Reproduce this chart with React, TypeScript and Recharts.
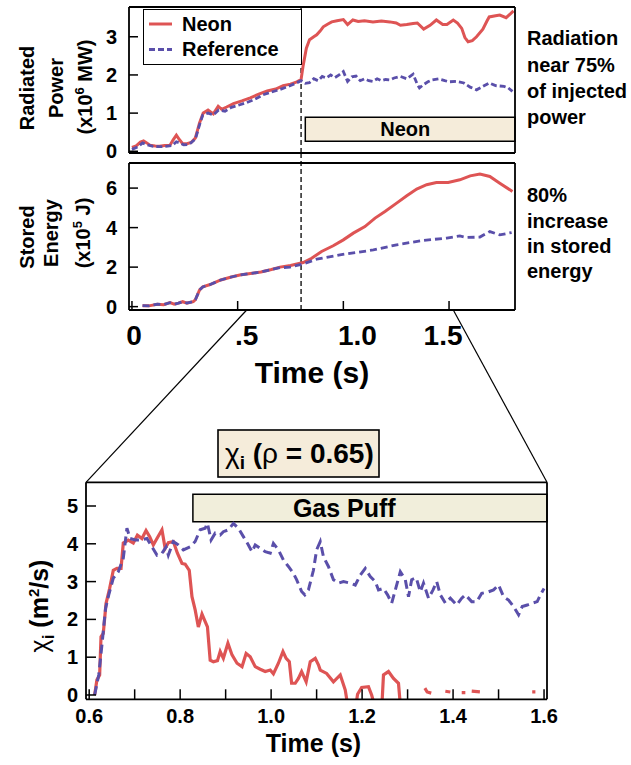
import React from 'react';
import { LineChart, Line, XAxis, YAxis, ReferenceArea, ReferenceLine, Legend } from 'recharts';

type Pt = [number, number | null];

// ---------- data ----------
const radiatedNeon: Pt[] = [
  [0.0, 0.1], [0.02, 0.14], [0.04, 0.24], [0.055, 0.27], [0.07, 0.22], [0.085, 0.16], [0.11, 0.14], [0.13, 0.13],
  [0.155, 0.15], [0.18, 0.16], [0.195, 0.3], [0.21, 0.42], [0.225, 0.3], [0.24, 0.2], [0.26, 0.2], [0.28, 0.23],
  [0.3, 0.35], [0.32, 0.75], [0.337, 1.0], [0.36, 1.08], [0.385, 0.98], [0.408, 1.18], [0.424, 1.1], [0.448, 1.16],
  [0.48, 1.25], [0.52, 1.32], [0.56, 1.4], [0.6, 1.5], [0.64, 1.58], [0.68, 1.63], [0.715, 1.72], [0.75, 1.76],
  [0.78, 1.82], [0.8, 1.88], [0.81, 2.25], [0.825, 2.7], [0.84, 2.92], [0.86, 3.0], [0.874, 3.05], [0.89, 3.15],
  [0.905, 3.26], [0.925, 3.33], [0.945, 3.39], [0.97, 3.42], [1.0, 3.45], [1.02, 3.32], [1.045, 3.44], [1.07, 3.4],
  [1.1, 3.42], [1.14, 3.39], [1.18, 3.41], [1.22, 3.39], [1.25, 3.36], [1.27, 3.3], [1.3, 3.32], [1.33, 3.35],
  [1.35, 3.36], [1.38, 3.2], [1.41, 3.3], [1.44, 3.44], [1.47, 3.32], [1.49, 3.32], [1.52, 3.44], [1.54, 3.36],
  [1.56, 3.22], [1.575, 2.98], [1.59, 2.87], [1.61, 2.9], [1.63, 3.0], [1.66, 3.2], [1.68, 3.42], [1.69, 3.52],
  [1.72, 3.55], [1.74, 3.57], [1.77, 3.5], [1.79, 3.6], [1.805, 3.68],
];
const radiatedReference: Pt[] = [
  [0.0, 0.05], [0.03, 0.12], [0.05, 0.22], [0.07, 0.17], [0.1, 0.13], [0.13, 0.12], [0.16, 0.13], [0.19, 0.15],
  [0.21, 0.25], [0.225, 0.22], [0.245, 0.17], [0.27, 0.18], [0.3, 0.32], [0.32, 0.7], [0.335, 0.95], [0.36, 1.0],
  [0.385, 0.95], [0.41, 1.08], [0.44, 1.05], [0.47, 1.15], [0.5, 1.2], [0.54, 1.27], [0.58, 1.36], [0.62, 1.48],
  [0.66, 1.55], [0.7, 1.62], [0.74, 1.7], [0.77, 1.77], [0.8, 1.85], [0.82, 1.78], [0.84, 1.8], [0.86, 1.9],
  [0.88, 1.85], [0.9, 1.96], [0.92, 1.92], [0.94, 2.0], [0.96, 1.93], [0.98, 2.0], [1.0, 2.09], [1.02, 1.83],
  [1.04, 1.95], [1.06, 1.97], [1.08, 1.85], [1.1, 1.9], [1.12, 1.85], [1.14, 1.83], [1.16, 1.9], [1.18, 1.85],
  [1.2, 1.88], [1.22, 1.87], [1.24, 1.92], [1.27, 1.96], [1.3, 1.9], [1.33, 2.02], [1.35, 1.75], [1.36, 1.66],
  [1.38, 1.75], [1.4, 1.82], [1.42, 1.87], [1.45, 1.9], [1.48, 1.85], [1.5, 1.82], [1.535, 1.83], [1.57, 1.79],
  [1.6, 1.68], [1.63, 1.61], [1.66, 1.7], [1.69, 1.79], [1.72, 1.72], [1.76, 1.7], [1.78, 1.66], [1.8, 1.57],
];
const storedNeon: Pt[] = [
  [0.05, 0.05], [0.08, 0.04], [0.12, 0.12], [0.15, 0.1], [0.18, 0.2], [0.2, 0.12], [0.22, 0.18], [0.24, 0.25],
  [0.26, 0.18], [0.29, 0.25], [0.3, 0.35], [0.32, 0.85], [0.335, 1.0], [0.37, 1.12], [0.42, 1.35], [0.47, 1.5],
  [0.51, 1.6], [0.56, 1.68], [0.61, 1.75], [0.66, 1.88], [0.7, 2.0], [0.75, 2.08], [0.81, 2.23], [0.85, 2.45],
  [0.897, 2.79], [0.952, 3.08], [1.0, 3.38], [1.047, 3.72], [1.102, 4.05], [1.15, 4.48], [1.197, 4.82], [1.252, 5.24],
  [1.3, 5.61], [1.347, 5.95], [1.394, 6.17], [1.44, 6.28], [1.496, 6.28], [1.551, 6.42], [1.6, 6.62], [1.646, 6.71],
  [1.693, 6.59], [1.74, 6.25], [1.8, 5.83],
];
const storedReference: Pt[] = [
  [0.05, 0.05], [0.08, 0.04], [0.12, 0.12], [0.15, 0.1], [0.18, 0.2], [0.2, 0.12], [0.22, 0.18], [0.24, 0.25],
  [0.26, 0.18], [0.29, 0.25], [0.3, 0.35], [0.32, 0.85], [0.335, 1.0], [0.37, 1.12], [0.42, 1.35], [0.47, 1.5],
  [0.51, 1.6], [0.56, 1.68], [0.61, 1.75], [0.66, 1.88], [0.7, 1.97], [0.747, 2.0], [0.81, 2.16], [0.874, 2.4],
  [0.984, 2.62], [1.142, 2.87], [1.252, 3.13], [1.378, 3.35], [1.489, 3.47], [1.551, 3.58], [1.583, 3.5],
  [1.646, 3.52], [1.693, 3.8], [1.74, 3.63], [1.796, 3.75],
];
const chiNeon: Pt[] = [
  [0.612, 0], [0.617, 0.4], [0.623, 0.53], [0.626, 1.54], [0.631, 1.63], [0.637, 2.42], [0.645, 2.82], [0.653, 3.3],
  [0.661, 3.35], [0.67, 3.35], [0.675, 4.02], [0.686, 4.1], [0.697, 4.02], [0.706, 4.23], [0.716, 4.14], [0.725, 4.35],
  [0.733, 4.19], [0.741, 3.97], [0.749, 4.14], [0.76, 4.37], [0.767, 3.88], [0.774, 4.03], [0.785, 4.06], [0.794, 3.75],
  [0.804, 3.48], [0.811, 3.46], [0.82, 3.3], [0.826, 2.6], [0.833, 2.25], [0.84, 1.8], [0.848, 2.14], [0.855, 1.94],
  [0.86, 1.8], [0.866, 0.92], [0.873, 0.88], [0.882, 0.91], [0.888, 1.15], [0.895, 0.97], [0.905, 1.37], [0.914, 1.06],
  [0.925, 0.84], [0.936, 0.75], [0.945, 1.1], [0.954, 1.01], [0.965, 0.75], [0.976, 0.68], [0.987, 0.62], [0.998, 0.66],
  [1.005, 0.56], [1.016, 0.84], [1.026, 1.15], [1.033, 0.97], [1.04, 0.88], [1.045, 0.31], [1.053, 0.31], [1.06, 0.44],
  [1.067, 0.62], [1.077, 0.35], [1.086, 0.88], [1.097, 0.97], [1.104, 0.8], [1.108, 0.66], [1.122, 0.57], [1.137, 0.35],
  [1.152, 0.53], [1.163, 0.13], [1.17, -0.4], [1.185, -0.4], [1.19, 0.02], [1.199, 0.2], [1.214, 0.22], [1.221, 0.0],
  [1.23, -0.4], [1.243, -0.4], [1.247, 0.53], [1.258, 0.62], [1.269, 0.44], [1.28, 0.31], [1.285, -0.4], [1.3, null],
  [1.338, 0.18], [1.343, 0.08], [1.352, 0.05], [1.36, null], [1.383, 0.1], [1.394, 0.08], [1.4, null],
  [1.419, 0.06], [1.427, 0.06], [1.432, null], [1.441, 0.1], [1.459, 0.08], [1.465, null],
  [1.574, 0.08], [1.581, 0.08],
];
const chiReference: Pt[] = [
  [0.612, 0], [0.621, 0.53], [0.628, 1.32], [0.636, 2.29], [0.643, 2.65], [0.653, 3.09], [0.664, 3.26], [0.675, 3.62],
  [0.683, 4.41], [0.69, 4.14], [0.701, 4.1], [0.712, 4.1], [0.727, 4.14], [0.738, 3.92], [0.749, 3.7], [0.76, 3.75],
  [0.769, 3.92], [0.774, 3.7], [0.785, 4.06], [0.796, 3.97], [0.807, 3.84], [0.822, 3.92], [0.833, 4.06], [0.844, 4.37],
  [0.855, 4.41], [0.86, 4.54], [0.868, 4.1], [0.877, 4.28], [0.888, 4.23], [0.895, 4.32], [0.906, 4.37], [0.917, 4.54],
  [0.928, 4.41], [0.939, 4.19], [0.95, 3.97], [0.958, 3.79], [0.965, 3.97], [0.976, 3.88], [0.987, 3.79], [0.998, 3.75],
  [1.005, 4.01], [1.016, 3.84], [1.027, 3.57], [1.038, 3.4], [1.049, 3.22], [1.056, 3.05], [1.067, 2.74], [1.074, 2.65],
  [1.082, 2.78], [1.093, 3.3], [1.1, 3.84], [1.108, 4.06], [1.115, 3.66], [1.126, 3.4], [1.137, 3.05], [1.148, 2.96],
  [1.159, 3.0], [1.174, 2.96], [1.185, 2.91], [1.196, 3.17], [1.207, 3.35], [1.218, 3.13], [1.229, 3.0], [1.236, 2.78],
  [1.247, 2.82], [1.256, 2.65], [1.265, 2.43], [1.273, 2.78], [1.284, 3.26], [1.295, 3.05], [1.302, 2.6], [1.309, 3.05],
  [1.319, 3.1], [1.328, 2.73], [1.335, 2.96], [1.346, 2.56], [1.356, 2.78], [1.364, 3.0], [1.372, 2.65], [1.383, 2.43],
  [1.394, 2.56], [1.408, 2.38], [1.419, 2.56], [1.427, 2.65], [1.441, 2.47], [1.452, 2.47], [1.463, 2.69], [1.478, 2.73],
  [1.489, 2.78], [1.5, 2.91], [1.511, 2.6], [1.522, 2.51], [1.533, 2.34], [1.544, 2.12], [1.552, 2.34], [1.563, 2.38],
  [1.574, 2.43], [1.585, 2.47], [1.592, 2.65], [1.6, 2.82],
];

const upperTimeTicks = [0, 0.5, 1, 1.5];
const upperTimeLabels = ['0', '.5', '1.0', '1.5'];
const radiatedTicks = [0, 1, 2, 3];
const storedTicks = [0, 2, 4, 6];
const chiTimeTicks = [0.6, 0.7, 0.8, 0.9, 1.0, 1.1, 1.2, 1.3, 1.4, 1.5, 1.6];
const chiTimeLabels = ['0.6', '', '0.8', '', '1.0', '', '1.2', '', '1.4', '', '1.6'];
const chiTicks = [0, 1, 2, 3, 4, 5];
const neonOnset = 0.8;

// ---------- style ----------
const FONT = '"Liberation Sans", Arial, Helvetica, sans-serif';
const RED = '#de5454';
const BLUE = '#5a4faa';
const BOX_FILL = '#f5ecda';
const PUFF_FILL = '#f1eedb';
const upperX = [-0.014, 1.812];
const chiX = [0.593, 1.6065];

const rows = (pts: Pt[]) => pts.map(([t, v]) => ({ t, v }));
const axisLine = { stroke: '#000', strokeWidth: 1.8 };
const tickLine = { stroke: '#000', strokeWidth: 1.5 };
const yTickFont = { fontSize: 20, fontWeight: 700, fill: '#000', fontFamily: FONT };

const labelShift: Record<string, number> = { '0': 2, '.5': 9, '1.0': 14, '1.5': -6 };
const UpperTimeTick = (p: any) => {
  const idx = upperTimeTicks.indexOf(p.payload.value);
  const lab = upperTimeLabels[idx] ?? '';
  return (
    <text x={p.x + (labelShift[lab] || 0)} y={p.y} dy="0.71em" textAnchor="middle" fontSize={28} fontWeight={700} fill="#000" fontFamily={FONT}>
      {lab}
    </text>
  );
};

const LegendBox = (props: any) => {
  const items = props.payload || [];
  return (
    <div style={{ position: 'relative', width: 159, height: 56, border: '1.6px solid #000', boxSizing: 'border-box', background: '#fff' }}>
      <svg width={159} height={56} style={{ position: 'absolute', left: -1.6, top: -1.6, overflow: 'visible' }}>
        {items.map((it: any, i: number) => (
          <g key={i}>
            <line x1={7} x2={30} y1={16 + i * 25.5} y2={16 + i * 25.5} stroke={it.color} strokeWidth={3}
              strokeDasharray={it.payload && it.payload.strokeDasharray ? it.payload.strokeDasharray : undefined} />
            <text x={40} y={23 + i * 24.5} fontSize={20} fontWeight={700} fill="#000" fontFamily={FONT}>{it.value}</text>
          </g>
        ))}
      </svg>
    </div>
  );
};

export default function App() {
  return (
    <div style={{ position: 'absolute', left: 0, top: 0, width: 631, height: 765, background: '#fff', fontFamily: FONT }}>
      {/* Radiated power */}
      <div style={{ position: 'absolute', left: 0, top: 0 }}>
        <LineChart width={631} height={165} margin={{ top: 6, right: 115, bottom: 11, left: 128 }} style={{ fontFamily: FONT }}>
          <XAxis xAxisId="b" type="number" dataKey="t" domain={upperX} allowDataOverflow ticks={upperTimeTicks} interval={0}
            height={1} tick={false} tickSize={-9} axisLine={axisLine} tickLine={tickLine} />
          <XAxis xAxisId="t" orientation="top" type="number" dataKey="t" domain={upperX} allowDataOverflow ticks={upperTimeTicks}
            interval={0} height={1} tick={false} tickSize={-9} axisLine={axisLine} tickLine={tickLine} />
          <YAxis yAxisId="l" type="number" domain={[-0.045, 3.78]} allowDataOverflow ticks={radiatedTicks} interval={0}
            width={1} tickSize={-9} tickMargin={21} tick={yTickFont} axisLine={axisLine} tickLine={tickLine} />
          <YAxis yAxisId="r" orientation="right" type="number" domain={[-0.045, 3.78]} allowDataOverflow ticks={radiatedTicks}
            interval={0} width={1} tickSize={-9} tick={false} axisLine={axisLine} tickLine={tickLine} />
          <ReferenceArea xAxisId="b" yAxisId="l" x1={0.82} x2={1.812} y1={0.26} y2={0.89} fill={BOX_FILL} fillOpacity={1}
            stroke="#000" strokeWidth={1.5}
            label={{ value: 'Neon', position: 'insideLeft', offset: 75, fill: '#000', fontSize: 20, fontWeight: 700, fontFamily: FONT }} />
          <ReferenceLine xAxisId="b" yAxisId="l" x={neonOnset} stroke="#000" strokeWidth={1.3} strokeDasharray="5 3" />
          <Line xAxisId="b" yAxisId="l" data={rows(radiatedNeon)} dataKey="v" name="Neon" stroke={RED} strokeWidth={3}
            dot={false} isAnimationActive={false} />
          <Line xAxisId="b" yAxisId="l" data={rows(radiatedReference)} dataKey="v" name="Reference" stroke={BLUE} strokeWidth={2.8}
            strokeDasharray="6 3" dot={false} isAnimationActive={false} />
          <Legend layout="horizontal" verticalAlign="middle" align="center" content={LegendBox}
            wrapperStyle={{ left: 143, top: 9, width: 159, height: 56 }} />
        </LineChart>
      </div>

      {/* Stored energy */}
      <div style={{ position: 'absolute', left: 0, top: 153 }}>
        <LineChart width={631} height={200} margin={{ top: 9, right: 115, bottom: 42, left: 128 }} style={{ fontFamily: FONT }}>
          <XAxis xAxisId="b" type="number" dataKey="t" domain={upperX} allowDataOverflow ticks={upperTimeTicks} interval={0}
            height={1} tick={UpperTimeTick} tickSize={-9} tickMargin={24} axisLine={axisLine} tickLine={tickLine} />
          <XAxis xAxisId="t" orientation="top" type="number" dataKey="t" domain={upperX} allowDataOverflow ticks={upperTimeTicks}
            interval={0} height={1} tick={false} tickSize={-9} axisLine={axisLine} tickLine={tickLine} />
          <YAxis yAxisId="l" type="number" domain={[-0.17, 7.27]} allowDataOverflow ticks={storedTicks} interval={0}
            width={1} tickSize={-9} tickMargin={21} tick={yTickFont} axisLine={axisLine} tickLine={tickLine} />
          <YAxis yAxisId="r" orientation="right" type="number" domain={[-0.17, 7.27]} allowDataOverflow ticks={storedTicks}
            interval={0} width={1} tickSize={-9} tick={false} axisLine={axisLine} tickLine={tickLine} />
          <ReferenceLine xAxisId="b" yAxisId="l" ifOverflow="visible"
            segment={[{ x: neonOnset, y: -0.17 }, { x: neonOnset, y: 7.78 }]}
            stroke="#000" strokeWidth={1.3} strokeDasharray="5 3" />
          <Line xAxisId="b" yAxisId="l" data={rows(storedNeon)} dataKey="v" name="Neon" stroke={RED} strokeWidth={3}
            dot={false} isAnimationActive={false} />
          <Line xAxisId="b" yAxisId="l" data={rows(storedReference)} dataKey="v" name="Reference" stroke={BLUE} strokeWidth={2.8}
            strokeDasharray="7 4" dot={false} isAnimationActive={false} />
        </LineChart>
      </div>

      {/* Chi_i */}
      <div style={{ position: 'absolute', left: 0, top: 470 }}>
        <LineChart width={631} height={295} margin={{ top: 11.3, right: 83, bottom: 64.7, left: 85 }} style={{ fontFamily: FONT }}>
          <XAxis xAxisId="b" type="number" dataKey="t" domain={chiX} allowDataOverflow ticks={chiTimeTicks} interval={0}
            height={1} tickSize={-10} tickMargin={19}
            tickFormatter={(v: number) => chiTimeLabels[chiTimeTicks.indexOf(v)] ?? ''}
            tick={yTickFont} axisLine={axisLine} tickLine={tickLine} />
          <XAxis xAxisId="t" orientation="top" type="number" dataKey="t" domain={chiX} allowDataOverflow ticks={chiTimeTicks}
            interval={0} height={1} tick={false} tickSize={-9} axisLine={axisLine} tickLine={tickLine} />
          <YAxis yAxisId="l" type="number" domain={[-0.114, 5.627]} allowDataOverflow ticks={chiTicks} interval={0}
            width={1} tickSize={-10} tickMargin={18} tick={yTickFont} axisLine={axisLine} tickLine={tickLine} />
          <YAxis yAxisId="r" orientation="right" type="number" domain={[-0.114, 5.627]} allowDataOverflow ticks={chiTicks}
            interval={0} width={1} tickSize={-10} tick={false} axisLine={axisLine} tickLine={tickLine} />
          <ReferenceArea xAxisId="b" yAxisId="l" x1={0.828} x2={1.6065} y1={4.58} y2={5.31} fill={PUFF_FILL} fillOpacity={1}
            stroke="#000" strokeWidth={1.5}
            label={{ value: 'Gas Puff', position: 'insideLeft', offset: 100, fill: '#000', fontSize: 25, fontWeight: 700, fontFamily: FONT }} />
          <Line xAxisId="b" yAxisId="l" data={rows(chiNeon)} dataKey="v" name="Neon" stroke={RED} strokeWidth={3.2}
            dot={false} connectNulls={false} isAnimationActive={false} />
          <Line xAxisId="b" yAxisId="l" data={rows(chiReference)} dataKey="v" name="Reference" stroke={BLUE} strokeWidth={3}
            strokeDasharray="9 5" dot={false} isAnimationActive={false} />
        </LineChart>
      </div>

      {/* annotations */}
      <svg width={631} height={765} style={{ position: 'absolute', left: 0, top: 0, pointerEvents: 'none' }}
        fontFamily={FONT} fontWeight={700} fill="#000">
        <text transform="translate(34,88) rotate(-90)" textAnchor="middle" fontSize={20}>Radiated</text>
        <text transform="translate(62.5,88) rotate(-90)" textAnchor="middle" fontSize={20}>Power</text>
        <text transform="translate(92,87) rotate(-90)" textAnchor="middle" fontSize={20}>
          (x10<tspan fontSize={13} dy={-8}>6</tspan><tspan dy={8}> MW)</tspan>
        </text>
        <text transform="translate(34,237) rotate(-90)" textAnchor="middle" fontSize={20}>Stored</text>
        <text transform="translate(58,233) rotate(-90)" textAnchor="middle" fontSize={20}>Energy</text>
        <text transform="translate(90,233) rotate(-90)" textAnchor="middle" fontSize={20}>
          (x10<tspan fontSize={13} dy={-8}>5</tspan><tspan dy={8}> J)</tspan>
        </text>

        <g fontSize={20}>
          <text x={527} y={45}>Radiation</text>
          <text x={527} y={71.5}>near 75%</text>
          <text x={527} y={98}>of injected</text>
          <text x={527} y={124}>power</text>
          <text x={527} y={202}>80%</text>
          <text x={527} y={227.5}>increase</text>
          <text x={527} y={253}>in stored</text>
          <text x={527} y={278}>energy</text>
        </g>

        <text x={312} y={383} textAnchor="middle" fontSize={30}>Time (s)</text>
        <text x={313.5} y={752} textAnchor="middle" fontSize={25}>Time (s)</text>

        <line x1={246.7} y1={310} x2={86} y2={482.3} stroke="#000" strokeWidth={1.2} />
        <line x1={453.3} y1={310} x2={547} y2={482.3} stroke="#000" strokeWidth={1.2} />

        <rect x={218} y={430} width={161} height={47} fill={BOX_FILL} stroke="#000" strokeWidth={1.6} />
        <text x={225} y={463} fontSize={28}>
          <tspan fontWeight={400}>χ</tspan>
          <tspan fontSize={19} dy={6}>i</tspan>
          <tspan dy={-6}> (</tspan>
          <tspan fontWeight={400}>ρ</tspan>
          <tspan> = 0.65)</tspan>
        </text>

        <text transform="translate(48,606) rotate(-90)" textAnchor="middle" fontSize={25}>
          <tspan fontWeight={400}>χ</tspan>
          <tspan fontSize={17} dy={6}>i</tspan>
          <tspan dy={-6}> (m</tspan>
          <tspan fontSize={15} dy={-9}>2</tspan>
          <tspan dy={9}>/s)</tspan>
        </text>
      </svg>
    </div>
  );
}
